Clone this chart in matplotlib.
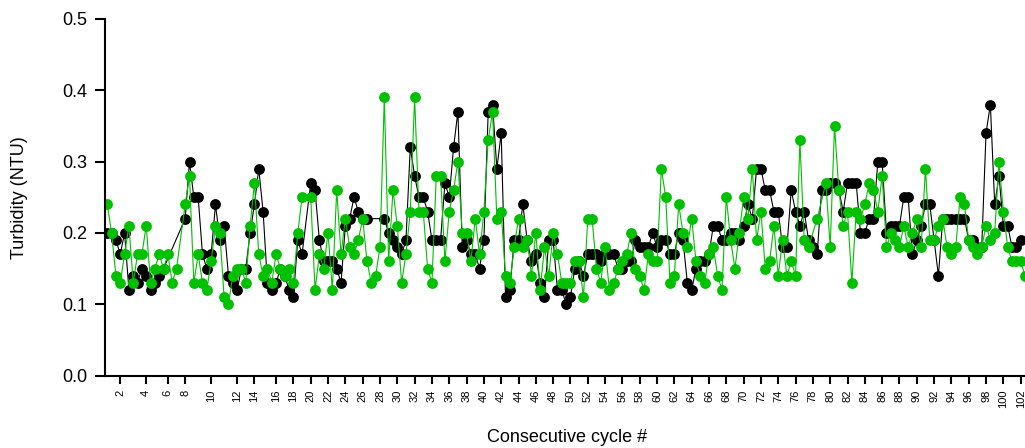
import numpy as np
import matplotlib
matplotlib.use("Agg")
import matplotlib.pyplot as plt

plt.rcParams['font.family'] = ['Liberation Sans', 'DejaVu Sans']

# turbidity per sample, two samples per cycle (None = no reading)
black_ntu = [0.20, 0.20, 0.19, 0.17, 0.20, 0.12, 0.14, 0.13, 0.15, 0.14,
             0.12, 0.13, 0.14, 0.15, None, None, None, None, 0.22, 0.30,
             0.25, 0.25, 0.17, 0.15, 0.17, 0.24, 0.19, 0.21, 0.14, 0.13,
             0.12, 0.15, 0.15, 0.20, 0.24, 0.29, 0.23, 0.13, 0.12, 0.13,
             0.15, 0.14, 0.12, 0.11, 0.19, 0.17, None, 0.27, 0.26, 0.19,
             0.16, 0.16, 0.16, 0.15, 0.13, 0.21, 0.22, 0.25, 0.23, 0.22,
             0.22, None, None, None, 0.22, 0.20, 0.19, 0.18, 0.17, 0.19,
             0.32, 0.28, 0.25, 0.25, 0.23, 0.19, 0.19, 0.19, 0.27, 0.25,
             0.32, 0.37, 0.18, 0.19, 0.17, 0.17, 0.15, 0.19, 0.37, 0.38,
             0.29, 0.34, 0.11, 0.12, 0.19, 0.19, 0.24, 0.19, 0.16, 0.17,
             0.13, 0.11, 0.19, 0.19, 0.12, 0.12, 0.10, 0.11, 0.15, 0.16,
             0.14, 0.17, 0.17, 0.17, 0.16, 0.17, 0.17, 0.17, 0.15, 0.15,
             0.16, 0.16, 0.19, 0.18, 0.18, 0.18, 0.20, 0.18, 0.19, 0.19,
             0.17, 0.17, 0.20, 0.19, 0.13, 0.12, 0.15, 0.16, 0.16, 0.17,
             0.21, 0.21, 0.19, 0.19, 0.20, 0.20, 0.19, 0.21, 0.24, 0.22,
             0.29, 0.29, 0.26, 0.26, 0.23, 0.23, 0.18, 0.18, 0.26, 0.23,
             0.21, 0.23, 0.19, 0.18, 0.17, 0.26, 0.26, 0.27, 0.27, 0.26,
             0.23, 0.27, 0.27, 0.27, 0.20, 0.20, 0.22, 0.22, 0.30, 0.30,
             0.20, 0.21, 0.21, 0.21, 0.25, 0.25, 0.17, 0.19, 0.21, 0.24,
             0.24, 0.19, 0.14, 0.22, 0.22, 0.22, 0.22, 0.22, 0.22, 0.19,
             0.19, 0.18, 0.18, 0.34, 0.38, 0.24, 0.28, 0.21, 0.21, 0.18,
             0.18, 0.19]

green_ntu = [0.24, 0.20, 0.14, 0.13, 0.17, 0.21, 0.13, 0.17, 0.17, 0.21,
             0.13, 0.15, 0.17, 0.15, 0.17, 0.13, 0.15, None, 0.24, 0.28,
             0.13, 0.17, 0.13, 0.12, 0.16, 0.21, 0.20, 0.11, 0.10, 0.14,
             0.15, 0.15, 0.13, 0.21, 0.27, 0.17, 0.14, 0.15, 0.13, 0.17,
             0.15, 0.14, 0.15, 0.13, 0.20, 0.25, None, 0.25, 0.12, 0.17,
             0.15, 0.20, 0.12, 0.26, 0.17, 0.22, 0.18, 0.17, 0.19, 0.22,
             0.16, 0.13, 0.14, 0.18, 0.39, 0.16, 0.26, 0.21, 0.13, 0.17,
             0.23, 0.39, 0.23, 0.23, 0.15, 0.13, 0.28, 0.28, 0.16, 0.23,
             0.26, 0.30, 0.20, 0.20, 0.16, 0.22, 0.17, 0.23, 0.33, 0.37,
             0.22, 0.23, 0.14, 0.13, 0.18, 0.22, 0.18, 0.19, 0.14, 0.20,
             0.12, 0.18, 0.14, 0.20, 0.17, 0.13, 0.13, 0.13, 0.16, 0.16,
             0.11, 0.22, 0.22, 0.15, 0.13, 0.18, 0.12, 0.13, 0.15, 0.16,
             0.17, 0.20, 0.15, 0.14, 0.12, 0.17, 0.16, 0.16, 0.29, 0.25,
             0.13, 0.14, 0.24, 0.20, 0.18, 0.22, 0.16, 0.14, 0.13, 0.17,
             0.18, 0.14, 0.12, 0.25, 0.19, 0.15, 0.20, 0.25, 0.22, 0.29,
             0.19, 0.23, 0.15, 0.16, 0.21, 0.14, 0.19, 0.14, 0.16, 0.14,
             0.33, 0.19, 0.18, None, 0.22, None, 0.27, 0.18, 0.35, 0.26,
             0.21, 0.23, 0.13, 0.23, 0.22, 0.24, 0.27, 0.26, 0.23, 0.28,
             0.18, 0.20, 0.19, 0.18, 0.21, 0.18, 0.20, 0.22, 0.18, 0.29,
             0.19, 0.19, 0.21, 0.22, 0.18, 0.17, 0.18, 0.25, 0.24, 0.19,
             0.18, 0.17, 0.18, 0.21, 0.19, 0.20, 0.30, 0.23, 0.18, 0.16,
             0.16, 0.16, 0.14]

# sample index where each labelled cycle starts
cycles = list(range(2, 103, 2))
cycle_sample = [3, 9, 14, 18, 24, 30, 34, 39, 43] + [2 * c + 7 for c in range(20, 103, 2)]


def valid(vals):
    x = [i for i, v in enumerate(vals) if v is not None]
    y = [v for v in vals if v is not None]
    return x, y


fig = plt.figure(figsize=(10.25, 4.48), dpi=100)
ax = fig.add_axes([0.1024, 0.1618, 0.8976, 0.7958])

bx, by = valid(black_ntu)
gx, gy = valid(green_ntu)
ax.plot(bx, by, '-o', color='black', lw=0.8, ms=7.8, mew=0)
ax.plot(gx, gy, '-o', color='#00C000', lw=0.8, ms=7.8, mew=0)

ax.set_xlim(-0.53, 212.0)
ax.set_ylim(0, 0.5)
ax.set_yticks([0.0, 0.1, 0.2, 0.3, 0.4, 0.5])
ax.set_yticklabels(['0.0', '0.1', '0.2', '0.3', '0.4', '0.5'], fontsize=13)
ax.set_xticks(cycle_sample)
ax.set_xticklabels([str(c) for c in cycles], rotation=90, fontsize=8)

for s in ['top', 'right']:
    ax.spines[s].set_visible(False)
for s in ['left', 'bottom']:
    ax.spines[s].set_linewidth(1.5)
ax.tick_params(axis='y', length=7.5, width=1.5, pad=5)
ax.tick_params(axis='x', length=6, width=1.5, pad=4)

ax.set_ylabel('Turbidity (NTU)', fontsize=13)
ax.yaxis.set_label_coords(-0.084, 0.5)
ax.set_xlabel('Consecutive cycle #', fontsize=13)
ax.xaxis.set_label_coords(0.502, -0.15)

fig.savefig('out.png', dpi=100)
